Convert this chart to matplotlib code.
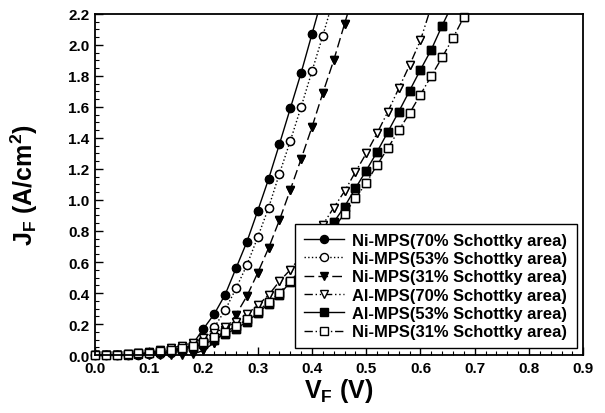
import matplotlib
matplotlib.use("Agg")
import matplotlib.pyplot as plt
from matplotlib.ticker import MultipleLocator, FormatStrFormatter
import numpy as np

plt.rcParams['font.family'] = ['Liberation Sans', 'DejaVu Sans']
plt.rcParams['font.weight'] = 'bold'
plt.rcParams['mathtext.fontset'] = 'custom'
plt.rcParams['mathtext.rm'] = 'Liberation Sans:bold'
plt.rcParams['mathtext.bf'] = 'Liberation Sans:bold'
plt.rcParams['mathtext.it'] = 'Liberation Sans:bold'

labels = ["Ni-MPS(70% Schottky area)", "Ni-MPS(53% Schottky area)",
          "Ni-MPS(31% Schottky area)", "Al-MPS(70% Schottky area)",
          "Al-MPS(53% Schottky area)", "Ni-MPS(31% Schottky area)"]

v_ni70 = [0.00, 0.02, 0.04, 0.06, 0.08, 0.10, 0.12, 0.14, 0.16, 0.18, 0.20, 0.22,
          0.24, 0.26, 0.28, 0.30, 0.32, 0.34, 0.36, 0.38, 0.40, 0.42]
j_ni70 = [0.00, 0.00, 0.00, 0.00, 0.002, 0.005, 0.01, 0.02, 0.035, 0.07, 0.17, 0.265,
          0.39, 0.56, 0.73, 0.93, 1.135, 1.36, 1.59, 1.82, 2.07, 2.32]

v_ni53 = [0.00, 0.02, 0.04, 0.06, 0.08, 0.10, 0.12, 0.14, 0.16, 0.18, 0.20, 0.22,
          0.24, 0.26, 0.28, 0.30, 0.32, 0.34, 0.36, 0.38, 0.40, 0.42, 0.44]
j_ni53 = [0.00, 0.00, 0.00, 0.00, 0.002, 0.004, 0.008, 0.015, 0.025, 0.05, 0.10, 0.18,
          0.29, 0.43, 0.58, 0.76, 0.95, 1.17, 1.38, 1.60, 1.83, 2.06, 2.30]

v_ni31 = [0.00, 0.02, 0.04, 0.06, 0.08, 0.10, 0.12, 0.14, 0.16, 0.18, 0.20, 0.22,
          0.24, 0.26, 0.28, 0.30, 0.32, 0.34, 0.36, 0.38, 0.40, 0.42, 0.44, 0.46, 0.48]
j_ni31 = [0.00, 0.00, 0.00, 0.00, 0.00, 0.00, 0.00, 0.00, 0.00, 0.005, 0.03, 0.08,
          0.16, 0.26, 0.38, 0.53, 0.69, 0.87, 1.065, 1.265, 1.47, 1.69, 1.90, 2.135, 2.37]

v_al70 = [0.00, 0.02, 0.04, 0.06, 0.08, 0.10, 0.12, 0.14, 0.16, 0.18, 0.20, 0.22,
          0.24, 0.26, 0.28, 0.30, 0.32, 0.34, 0.36, 0.38, 0.40, 0.42, 0.44, 0.46,
          0.48, 0.50, 0.52, 0.54, 0.56, 0.58, 0.60, 0.62]
j_al70 = [0.00, 0.00, 0.00, 0.005, 0.01, 0.018, 0.03, 0.045, 0.06, 0.08, 0.11, 0.14,
          0.18, 0.21, 0.265, 0.32, 0.387, 0.475, 0.55, 0.64, 0.74, 0.84, 0.95, 1.056,
          1.18, 1.30, 1.43, 1.57, 1.72, 1.87, 2.03, 2.25]

v_al53 = [0.00, 0.02, 0.04, 0.06, 0.08, 0.10, 0.12, 0.14, 0.16, 0.18, 0.20, 0.22,
          0.24, 0.26, 0.28, 0.30, 0.32, 0.34, 0.36, 0.38, 0.40, 0.42, 0.44, 0.46,
          0.48, 0.50, 0.52, 0.54, 0.56, 0.58, 0.60, 0.62, 0.64, 0.66]
j_al53 = [0.00, 0.00, 0.00, 0.003, 0.007, 0.012, 0.02, 0.03, 0.04, 0.05, 0.07, 0.10,
          0.135, 0.17, 0.215, 0.27, 0.33, 0.39, 0.47, 0.56, 0.65, 0.75, 0.856, 0.957,
          1.075, 1.19, 1.31, 1.44, 1.57, 1.705, 1.84, 1.97, 2.125, 2.27]

v_ni31b = [0.00, 0.02, 0.04, 0.06, 0.08, 0.10, 0.12, 0.14, 0.16, 0.18, 0.20, 0.22,
           0.24, 0.26, 0.28, 0.30, 0.32, 0.34, 0.36, 0.38, 0.40, 0.42, 0.44, 0.46,
           0.48, 0.50, 0.52, 0.54, 0.56, 0.58, 0.60, 0.62, 0.64, 0.66, 0.68]
j_ni31b = [0.00, 0.00, 0.00, 0.005, 0.01, 0.015, 0.025, 0.035, 0.045, 0.06, 0.085, 0.115,
           0.15, 0.185, 0.23, 0.285, 0.34, 0.40, 0.48, 0.56, 0.64, 0.73, 0.82, 0.91,
           1.01, 1.11, 1.226, 1.335, 1.45, 1.56, 1.68, 1.80, 1.92, 2.045, 2.18]

fig = plt.figure(figsize=(6.05, 4.14), dpi=100)
ax = fig.add_axes([0.157, 0.140, 0.807, 0.824])

YMAX = 2.2
ms = 5.8
lw = 1.0
series = [
    (v_ni70, j_ni70, dict(marker='o', mfc='black'), '-'),
    (v_ni53, j_ni53, dict(marker='o', mfc='white'), ':'),
    (v_ni31, j_ni31, dict(marker='v', mfc='black'), (0, (7, 3))),
    (v_al70, j_al70, dict(marker='v', mfc='white'), (0, (6, 2, 1, 2, 1, 2))),
    (v_al53, j_al53, dict(marker='s', mfc='black'), '-'),
    (v_ni31b, j_ni31b, dict(marker='s', mfc='white'), (0, (6, 2, 1, 2))),
]
for (v, j, mk, ls), lab in zip(series, labels):
    v = np.asarray(v); j = np.asarray(j)
    ax.plot(v, j, color='black', ls=ls, lw=lw, mec='black', ms=ms, mew=1.0,
            label=lab, **mk)
    inside = j <= YMAX
    ax.plot(v[inside], j[inside], ls='none', mec='black', ms=ms, mew=1.0,
            clip_on=False, zorder=2.5, **mk)

ax.set_xlim(0.0, 0.9)
ax.set_ylim(0.0, YMAX)
ax.xaxis.set_major_locator(MultipleLocator(0.1))
ax.xaxis.set_minor_locator(MultipleLocator(0.02))
ax.yaxis.set_major_locator(MultipleLocator(0.2))
ax.yaxis.set_minor_locator(MultipleLocator(0.05))
ax.tick_params(which='both', direction='in', top=False, right=False)
ax.tick_params(which='major', length=6, width=1.0, labelsize=11, pad=4)
ax.tick_params(which='minor', length=3, width=0.8)
for lab in ax.get_xticklabels() + ax.get_yticklabels():
    lab.set_fontweight('bold')
ax.xaxis.set_major_formatter(FormatStrFormatter('%.1f'))
ax.yaxis.set_major_formatter(FormatStrFormatter('%.1f'))
for s in ax.spines.values():
    s.set_linewidth(1.3)

ax.set_xlabel(r'V$_\mathrm{F}$ (V)', fontsize=18, fontweight='bold', labelpad=1)
ax.set_ylabel(r'J$_\mathrm{F}$ (A/cm$^\mathrm{2}$)', fontsize=18, fontweight='bold', labelpad=20)

leg = ax.legend(loc='lower right', fontsize=11.9, frameon=True, fancybox=False,
                edgecolor='black', framealpha=1.0, borderpad=0.55, labelspacing=0.2,
                handlelength=2.4, handletextpad=0.5, borderaxespad=0.4)
leg.get_frame().set_linewidth(1.0)
leg.set_zorder(5)
for t in leg.get_texts():
    t.set_fontweight('bold')

fig.savefig('out.png', dpi=100)
